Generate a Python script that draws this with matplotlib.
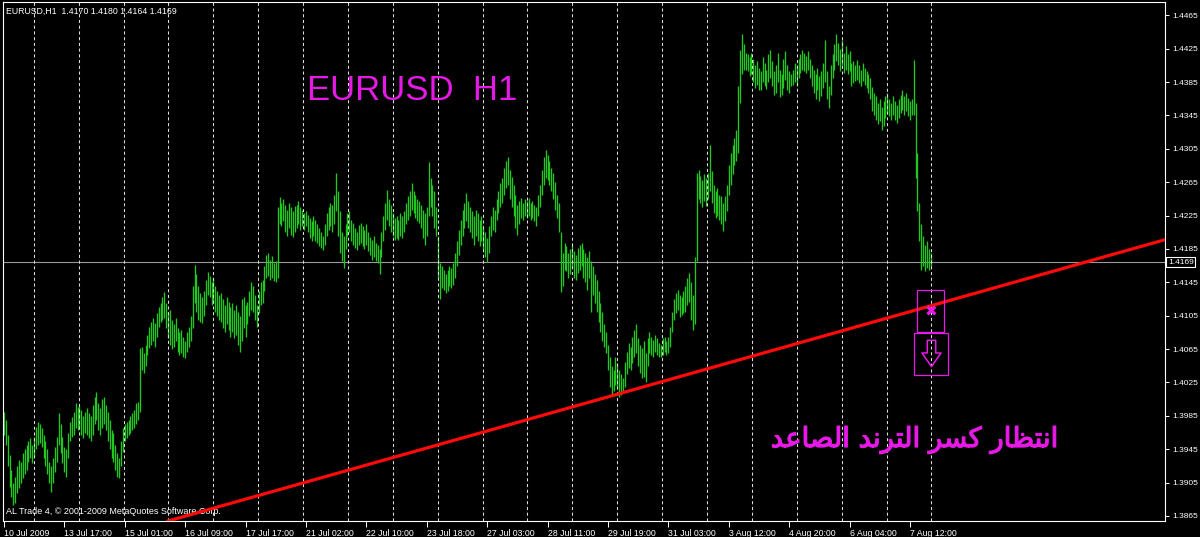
import numpy as np
import matplotlib
matplotlib.use("Agg")
import matplotlib.pyplot as plt
import matplotlib.patheffects as pe
from matplotlib.patches import Rectangle
from matplotlib.path import Path
from matplotlib.transforms import blended_transform_factory

# EURUSD H1 bars, 10 Jul 2009 08:00 .. 7 Aug 2009 23:00, prices in 1/10000
bar_high = [
    13990, 13980, 13962, 13938, 13920, 13905, 13912, 13925, 13932, 13930,
    13940, 13945, 13950, 13955, 13958, 13950, 13960, 13972, 13978, 13975,
    13970, 13962, 13955, 13945, 13930, 13925, 13935, 13948, 13960, 13989,
    13975, 13960, 13948, 13945, 13965, 13978, 13984, 13990, 14000, 13996,
    13998, 13992, 13985, 13990, 13995, 13988, 13985, 13998, 14008, 14013,
    14000, 13995, 14005, 14008, 13998, 13990, 13980, 13968, 13965, 13950,
    13940, 13935, 13955, 13970, 13975, 13978, 13980, 13985, 13988, 13992,
    14000, 14002, 14066, 14068, 14060, 14070, 14082, 14092, 14098, 14102,
    14096, 14108, 14115, 14120, 14128, 14133, 14120, 14110, 14112, 14100,
    14095, 14102, 14090, 14085, 14088, 14080, 14075, 14085, 14092, 14105,
    14140, 14166, 14155, 14140, 14132, 14128, 14135, 14148, 14157, 14152,
    14145, 14150, 14140, 14135, 14130, 14132, 14125, 14118, 14128, 14122,
    14115, 14120, 14112, 14118, 14110, 14105, 14125, 14128, 14118, 14122,
    14135, 14145, 14140, 14130, 14118, 14135, 14145, 14148, 14165, 14178,
    14180, 14172, 14176, 14168, 14170, 14235, 14247, 14240, 14245, 14238,
    14232, 14240, 14235, 14230, 14236, 14238, 14242, 14235, 14232, 14228,
    14230, 14226, 14222, 14218, 14224, 14220, 14215, 14210, 14205, 14200,
    14215, 14228, 14235, 14240, 14238, 14250, 14276, 14255, 14230, 14205,
    14200, 14215, 14228, 14231, 14220, 14216, 14210, 14205, 14214, 14216,
    14212, 14208, 14215, 14205, 14199, 14196, 14200, 14192, 14190, 14185,
    14205, 14225, 14240, 14256, 14245, 14238, 14228, 14222, 14225, 14220,
    14228, 14224, 14230, 14240, 14248, 14255, 14264, 14255, 14250, 14245,
    14242, 14238, 14232, 14228, 14235, 14289, 14270, 14262, 14255, 14235,
    14200, 14168, 14165, 14160, 14155, 14160, 14165, 14162, 14168, 14180,
    14195, 14208, 14220, 14232, 14240, 14252, 14242, 14235, 14230, 14225,
    14232, 14228, 14220, 14225, 14211, 14205, 14198, 14212, 14225, 14235,
    14232, 14245, 14255, 14264, 14270, 14282, 14290, 14295, 14280, 14271,
    14262, 14250, 14238, 14242, 14246, 14240, 14245, 14242, 14246, 14240,
    14243, 14238, 14235, 14250, 14262, 14280, 14295, 14304, 14298, 14290,
    14282, 14276, 14265, 14250, 14240, 14205, 14180, 14192, 14188, 14180,
    14185, 14190, 14182, 14178, 14186, 14190, 14192, 14185, 14180, 14175,
    14182, 14170, 14165, 14155, 14148, 14135, 14120, 14110, 14095, 14085,
    14070, 14055, 14045, 14040, 14056, 14048, 14040, 14035, 14030, 14050,
    14062, 14072, 14068, 14080, 14088, 14095, 14078, 14070, 14066, 14075,
    14060, 14078, 14085, 14080, 14076, 14082, 14078, 14072, 14070, 14078,
    14080, 14075, 14080, 14092, 14110, 14125, 14132, 14136, 14130, 14128,
    14135, 14140, 14150, 14156, 14145, 14130, 14175, 14276, 14280, 14272,
    14268, 14275, 14270, 14276, 14310, 14278, 14262, 14255, 14258, 14250,
    14248, 14240, 14248, 14262, 14285, 14300, 14310, 14318, 14328, 14380,
    14423, 14442, 14430, 14420, 14418, 14415, 14420, 14412, 14405, 14410,
    14402, 14398, 14415, 14408, 14400, 14418, 14423, 14410, 14398, 14405,
    14420, 14400, 14395, 14412, 14422, 14405, 14398, 14395, 14400, 14408,
    14405, 14412, 14418, 14423, 14420, 14416, 14422, 14412, 14405, 14400,
    14395, 14402, 14392, 14398, 14408, 14435, 14398, 14380, 14405, 14418,
    14430, 14443, 14432, 14425, 14435, 14420, 14428, 14418, 14422, 14408,
    14410, 14405, 14411, 14406, 14400, 14408, 14402, 14398, 14395, 14390,
    14379, 14372, 14368, 14360, 14365, 14355, 14362, 14368, 14372, 14365,
    14360, 14368, 14362, 14358, 14365, 14370, 14375, 14368, 14372, 14366,
    14362, 14365, 14411, 14360, 14300, 14240, 14215, 14200, 14190, 14195,
    14185, 14180,
]
bar_low = [
    13962, 13950, 13925, 13900, 13888, 13878, 13880, 13892, 13898, 13905,
    13910, 13915, 13920, 13930, 13935, 13928, 13936, 13945, 13950, 13952,
    13948, 13935, 13925, 13915, 13905, 13894, 13905, 13918, 13930, 13950,
    13940, 13928, 13918, 13912, 13935, 13955, 13960, 13962, 13970, 13968,
    13972, 13962, 13958, 13965, 13962, 13958, 13955, 13962, 13975, 13980,
    13968, 13962, 13970, 13975, 13968, 13955, 13945, 13935, 13930, 13920,
    13912, 13910, 13925, 13942, 13955, 13958, 13962, 13965, 13968, 13970,
    13975, 13980, 13990, 14040, 14036, 14045, 14058, 14066, 14070, 14075,
    14068, 14080, 14092, 14098, 14100, 14102, 14090, 14078, 14070, 14065,
    14068, 14075, 14062, 14058, 14060, 14056, 14054, 14062, 14068, 14075,
    14090, 14120, 14110, 14100, 14098, 14096, 14105, 14118, 14130, 14128,
    14118, 14120, 14110, 14105, 14100, 14098, 14090, 14085, 14095, 14088,
    14080, 14085, 14078, 14082, 14070, 14062, 14075, 14090, 14080, 14095,
    14105, 14112, 14110, 14100, 14092, 14108, 14118, 14120, 14135, 14150,
    14152, 14148, 14150, 14146, 14145, 14150, 14215, 14212, 14218, 14205,
    14200, 14210, 14202, 14199, 14205, 14210, 14215, 14208, 14212, 14208,
    14212, 14205, 14198, 14194, 14200, 14195, 14192, 14188, 14186, 14184,
    14190, 14200, 14208, 14212, 14205, 14215, 14230, 14200, 14180, 14170,
    14162, 14185, 14200, 14205, 14195, 14190, 14186, 14184, 14190, 14192,
    14188, 14185, 14190, 14182, 14178, 14172, 14175, 14170, 14168, 14155,
    14175, 14195, 14208, 14220, 14212, 14205, 14200, 14196, 14198, 14196,
    14200, 14198, 14205, 14215, 14220, 14225, 14232, 14228, 14222, 14218,
    14216, 14210, 14198, 14190, 14200, 14225, 14235, 14225, 14210, 14200,
    14150, 14125, 14138, 14136, 14132, 14135, 14140, 14138, 14142, 14150,
    14165, 14178, 14190, 14200, 14210, 14218, 14210, 14205, 14198, 14190,
    14200, 14195, 14188, 14195, 14185, 14175, 14169, 14180, 14200, 14208,
    14205, 14220, 14228, 14235, 14240, 14250, 14258, 14262, 14245, 14235,
    14225, 14210, 14202, 14215, 14222, 14220, 14225, 14222, 14224, 14220,
    14222, 14218, 14212, 14225, 14235, 14250, 14262, 14270, 14268, 14262,
    14255, 14245, 14232, 14222, 14205, 14133, 14140, 14160, 14158, 14150,
    14155, 14162, 14150, 14148, 14156, 14160, 14165, 14150, 14145, 14136,
    14150, 14110, 14130, 14120, 14110, 14098, 14085, 14075, 14068, 14060,
    14040, 14020, 14010, 14015, 14022, 14018, 14008, 14010, 14012, 14020,
    14035, 14042, 14040, 14048, 14055, 14060, 14045, 14036, 14030, 14032,
    14025, 14045, 14060, 14058, 14055, 14062, 14058, 14055, 14056, 14058,
    14062, 14058, 14060, 14068, 14085, 14100, 14108, 14112, 14104, 14106,
    14108, 14110, 14118, 14122, 14100, 14088, 14095, 14170, 14245, 14240,
    14235, 14242, 14236, 14245, 14255, 14240, 14228, 14222, 14225, 14220,
    14215, 14206, 14218, 14230, 14250, 14262, 14275, 14285, 14290, 14300,
    14360, 14395, 14400, 14400, 14398, 14392, 14395, 14385, 14378, 14382,
    14375, 14376, 14385, 14380, 14377, 14385, 14390, 14380, 14370, 14372,
    14385, 14367, 14370, 14378, 14388, 14375, 14372, 14380, 14382, 14385,
    14380, 14390, 14396, 14400, 14398, 14396, 14400, 14390, 14380, 14372,
    14365, 14375, 14362, 14368, 14378, 14385, 14365, 14354, 14370, 14390,
    14400, 14410, 14405, 14398, 14405, 14396, 14400, 14395, 14398, 14380,
    14384, 14386, 14388, 14384, 14380, 14386, 14382, 14378, 14372, 14365,
    14350, 14345, 14340, 14335, 14338, 14328, 14332, 14342, 14348, 14344,
    14340, 14345, 14340, 14336, 14342, 14348, 14352, 14345, 14350, 14344,
    14340, 14345, 14345, 14270, 14230, 14195, 14160, 14165, 14158, 14162,
    14160, 14164,
]
last_open = 1.4170
last_close = 1.4169

# time axis labels, one every 32 bars
time_labels = ["10 Jul 2009", "13 Jul 17:00", "15 Jul 01:00", "16 Jul 09:00",
               "17 Jul 17:00", "21 Jul 02:00", "22 Jul 10:00", "23 Jul 18:00",
               "27 Jul 03:00", "28 Jul 11:00", "29 Jul 19:00", "31 Jul 03:00",
               "3 Aug 12:00", "4 Aug 20:00", "6 Aug 04:00", "7 Aug 12:00"]
label_step = 32
price_ticks = [1.3865, 1.3905, 1.3945, 1.3985, 1.4025, 1.4065, 1.4105, 1.4145,
               1.4185, 1.4225, 1.4265, 1.4305, 1.4345, 1.4385, 1.4425, 1.4465]

# support trend line through two points (bar index, price)
trend_bars = [322, 615]
trend_prices = [1.4009, 1.4196]

# break signal objects
signal_bar = 491
signal_x_price = 1.4110
signal_arrow_price = 1.4060

title_text = "EURUSD  H1"
note_text = "انتظار كسر الترند الصاعد"

# ---- simple Arabic shaping (presentation forms, right-to-left) ----
FORMS = {
    "ا": ("\uFE8D", "\uFE8E", None, None),
    "ن": ("\uFEE5", "\uFEE6", "\uFEE7", "\uFEE8"),
    "ت": ("\uFE95", "\uFE96", "\uFE97", "\uFE98"),
    "ظ": ("\uFEC5", "\uFEC6", "\uFEC7", "\uFEC8"),
    "ر": ("\uFEAD", "\uFEAE", None, None),
    "ك": ("\uFED9", "\uFEDA", "\uFEDB", "\uFEDC"),
    "س": ("\uFEB1", "\uFEB2", "\uFEB3", "\uFEB4"),
    "ل": ("\uFEDD", "\uFEDE", "\uFEDF", "\uFEE0"),
    "د": ("\uFEA9", "\uFEAA", None, None),
    "ص": ("\uFEB9", "\uFEBA", "\uFEBB", "\uFEBC"),
    "ع": ("\uFEC9", "\uFECA", "\uFECB", "\uFECC"),
}


def shape_word(w):
    out = []
    for k, c in enumerate(w):
        f = FORMS.get(c)
        if f is None:
            out.append(c)
            continue
        prev_joins = k > 0 and w[k - 1] in FORMS and FORMS[w[k - 1]][2] is not None
        next_joins = k < len(w) - 1 and w[k + 1] in FORMS and f[2] is not None
        if prev_joins and next_joins:
            out.append(f[3])
        elif prev_joins:
            out.append(f[1])
        elif next_joins:
            out.append(f[2])
        else:
            out.append(f[0])
    return "".join(out)


def shape_arabic(s):
    shaped = " ".join(shape_word(w) for w in s.split(" "))
    return shaped[::-1]


# hollow down arrow marker (MT4 wingdings style)
arrow_marker = Path([(-0.16, 0.5), (0.16, 0.5), (0.16, 0.02), (0.36, 0.02),
                     (0.0, -0.5), (-0.36, 0.02), (-0.16, 0.02), (-0.16, 0.5)],
                    closed=True)

plt.rcParams["font.family"] = ["Liberation Sans", "DejaVu Sans"]

W, H = 1200, 537
fig = plt.figure(figsize=(W / 100, H / 100), dpi=100, facecolor="black")
ax = fig.add_axes([3 / W, 16 / H, 1162 / W, 519 / H], facecolor="black")

highs = np.array(bar_high) / 10000.0
lows = np.array(bar_low) / 10000.0
idx = np.arange(len(highs))

px_per_bar = 1.8875
ax.set_xlim(-0.5, -0.5 + 1162 / px_per_bar)
ax.set_ylim(1.38590, 1.44809)

# day separators (dotted)
for k in range(21):
    ax.axvline(15.8 + 23.78 * k, color="#dcdcdc", lw=0.75,
               linestyle=(0, (3, 2.5)), zorder=3)

ax.axhline(last_close, color="#9a9a9a", lw=0.8, zorder=1)
ax.vlines(idx, lows, highs, color="#20c820", lw=0.95, zorder=2)

ax.axline((trend_bars[0], trend_prices[0]), (trend_bars[1], trend_prices[1]),
          color="#ff0a0a", lw=2.3, zorder=4)

mag = "#e619e6"
ax.add_patch(Rectangle((signal_bar - 7, 1.40858), 14, 0.0050, fill=False,
                       edgecolor=mag, lw=0.9, zorder=5))
ax.add_patch(Rectangle((signal_bar - 9, 1.40340), 18, 0.00507, fill=False,
                       edgecolor=mag, lw=0.9, zorder=5))
ax.text(signal_bar, signal_x_price, "\u2716", color=mag, fontsize=11,
        ha="center", va="center", family="DejaVu Sans", zorder=6)
ax.plot([signal_bar], [signal_arrow_price], marker=arrow_marker,
        markersize=19, markerfacecolor="none", markeredgecolor=mag,
        markeredgewidth=1.1, linestyle="none", zorder=6)

# spines and ticks
for s in ax.spines.values():
    s.set_color("white")
    s.set_linewidth(0.8)

ax.yaxis.tick_right()
ax.set_yticks(price_ticks)
ax.set_yticklabels([f"{p:.4f}" for p in price_ticks])
ax.tick_params(axis="y", colors="white", length=3, width=0.7, direction="out",
               pad=2, labelsize=6)

ax.set_xticks(idx[::label_step][:len(time_labels)])
ax.set_xticklabels(time_labels, ha="left")
ax.tick_params(axis="x", colors="white", length=4, width=0.7, direction="out",
               pad=1.5, labelsize=6.3)

# current price box on the scale
tr = blended_transform_factory(ax.transAxes, ax.transData)
ax.text(1.0 + 3 / 1162, last_close, f"{last_close:.4f}", transform=tr,
        ha="left", va="center", color="white", fontsize=6, zorder=7,
        bbox=dict(facecolor="black", edgecolor="white", lw=0.8,
                  boxstyle="square,pad=0.2"), clip_on=False)

header = (f"EURUSD,H1  {last_open:.4f} {highs[-1]:.4f} "
          f"{lows[-1]:.4f} {last_close:.4f}")
ax.text(3 / 1162, 1 - 12 / 519, header, transform=ax.transAxes, color="white",
        fontsize=6.3, ha="left", va="baseline")
ax.text(3 / 1162, 7 / 519, "AL Trade 4, \u00a9 2001-2009 MetaQuotes Software Corp.",
        transform=ax.transAxes, color="white", fontsize=6.5, ha="left",
        va="baseline")

ax.text((307 - 3) / 1162, (521 - 100) / 519, title_text, transform=ax.transAxes,
        color=mag, fontsize=25, ha="left", va="baseline")
ax.text((1058 - 3) / 1162, (521 - 447) / 519, shape_arabic(note_text),
        transform=ax.transAxes, color=mag, fontsize=19.8, ha="right",
        va="baseline", family="DejaVu Sans",
        path_effects=[pe.withStroke(linewidth=0.9, foreground=mag)])

fig.savefig("out.png", dpi=100, facecolor="black")
